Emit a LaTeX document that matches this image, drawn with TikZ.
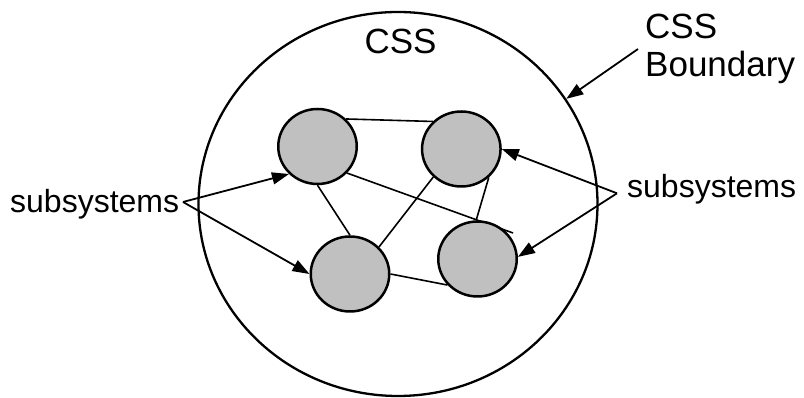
\documentclass[tikz,border=0pt]{standalone}
\usepackage{fontspec}
\setmainfont{Liberation Sans}
\usetikzlibrary{arrows.meta,shapes.geometric,backgrounds}
\definecolor{subgray}{HTML}{C0C0C0}
\tikzset{
  subsys/.style={ellipse,draw,line width=2.5pt,fill=subgray,minimum width=78.5pt,minimum height=75pt,inner sep=0pt},
  link/.style={line width=1.6pt},
  pointer/.style={line width=1.8pt,-{Triangle[length=17pt,width=12pt]}},
  biglabel/.style={font=\fontsize{35}{38.4}\selectfont,inner sep=0pt},
  sublabel/.style={font=\fontsize{32}{36}\selectfont,inner sep=0pt}
}
\begin{document}
\begin{tikzpicture}[x=1pt,y=1pt]
      \useasboundingbox (0,0) rectangle (804,398);
      % Draw the boundary
      \node (css) [ellipse,draw,line width=2.3pt,minimum width=399pt,minimum height=384pt] at (398,194) {};
      \node (cssname) [biglabel,anchor=base] at (400.5,344) {CSS};
      % Draw the subsystems
      \node (tl) [subsys] at (317.5,251.5) {};
      \node (tr) [subsys] at (461.3,249) {};
      \node (bl) [subsys] at (350,124) {};
      \node (br) [subsys] at (477.5,139) {};
      \coordinate (stub) at (513,165);
      % Draw the links behind them
      \begin{pgfonlayer}{background}
        \draw[link] (tl.44) -- (tr.136);
        \draw[link] (tl.south) -- (bl.north);
        \draw[link] (tl.-42) -- (stub);
        \draw[link] (tr.225) -- (bl.43);
        \draw[link] (tr.-46) -- (br.92);
        \draw[link] (bl.east) -- (br.221);
      \end{pgfonlayer}
      % Draw the labels
      \node (subleft) [sublabel,anchor=base west] at (10,185) {subsystems};
      \node (subright) [sublabel,anchor=base west] at (627,200) {subsystems};
      \node (boundary) [biglabel,anchor=base west,align=left] at (645,321.3) {CSS\\Boundary};
      \coordinate (tipleft) at (183,196);
      \coordinate (tipright) at (617,204.7);
      \coordinate (tipboundary) at (638,349);
      % Draw the pointers
      \draw[pointer] (tipleft) -- (tl.224);
      \draw[pointer] (tipleft) -- (bl.west);
      \draw[pointer] (tipright) -- (tr.east);
      \draw[pointer] (tipright) -- (br.3);
      \draw[pointer] (tipboundary) -- (css.32);
    \end{tikzpicture}
\end{document}
